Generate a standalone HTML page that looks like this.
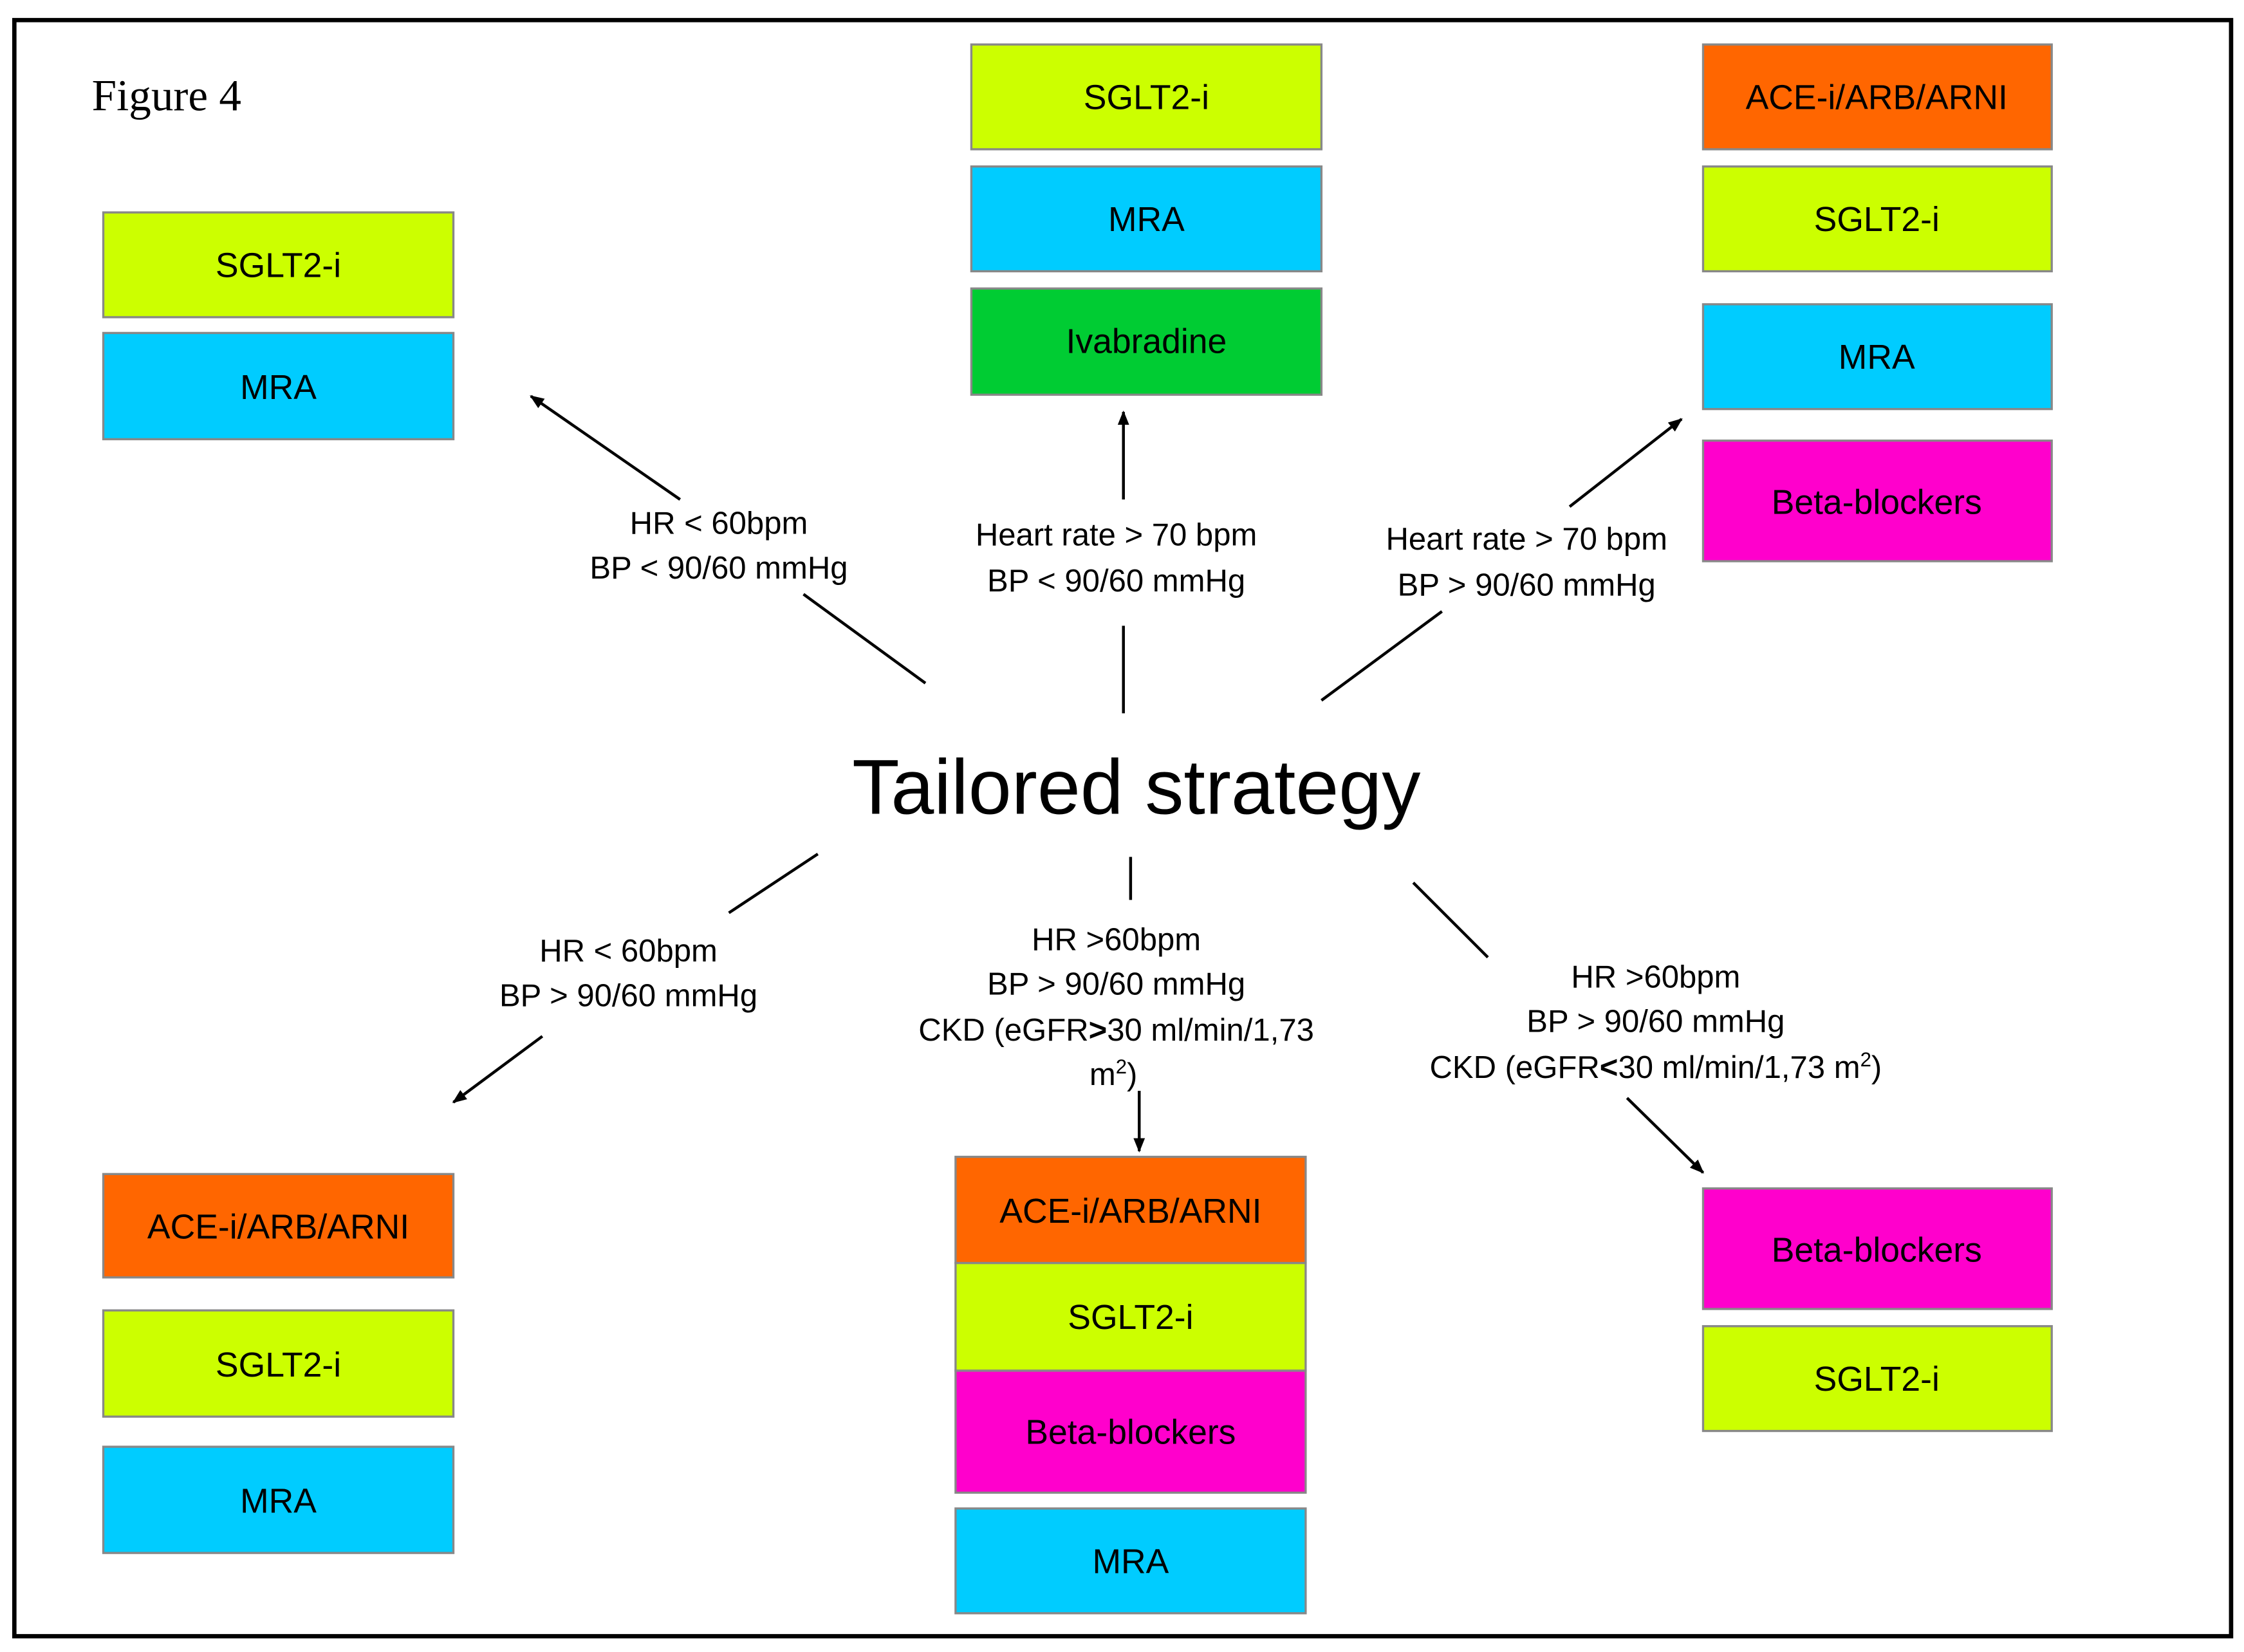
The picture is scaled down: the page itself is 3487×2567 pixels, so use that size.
<!DOCTYPE html>
<html><head><meta charset="utf-8"><style>
html,body{margin:0;padding:0;background:#fff;}
svg{display:block;}
text{font-family:"Liberation Sans",Arial,sans-serif;}
</style></head><body>
<svg width="3487" height="2567" viewBox="0 0 1564 1151" preserveAspectRatio="none" xmlns="http://www.w3.org/2000/svg">
<defs><marker id="a" markerWidth="10" markerHeight="10" refX="9" refY="5" orient="auto" markerUnits="userSpaceOnUse"><path d="M0,1 L10,5 L0,9 Z" fill="#000"/></marker></defs>
<rect x="0" y="0" width="1564" height="1151" fill="#fff"/>
<rect x="10" y="14" width="1545" height="1126" fill="none" stroke="#000" stroke-width="3"/>
<text x="64" y="77" font-family="Liberation Serif,serif" font-size="31" style="font-family:'Liberation Serif',serif">Figure 4</text>
<g stroke="#888" stroke-width="1.5" font-size="24" text-anchor="middle">
<rect x="72" y="148" width="244" height="73" fill="#CCFF00"/><text x="194" y="193" stroke="none">SGLT2-i</text>
<rect x="72" y="232" width="244" height="74" fill="#00CCFF"/><text x="194" y="278" stroke="none">MRA</text>
<rect x="677" y="31" width="244" height="73" fill="#CCFF00"/><text x="799" y="76" stroke="none">SGLT2-i</text>
<rect x="677" y="116" width="244" height="73" fill="#00CCFF"/><text x="799" y="161" stroke="none">MRA</text>
<rect x="677" y="201" width="244" height="74" fill="#00CC33"/><text x="799" y="246" stroke="none">Ivabradine</text>
<rect x="1187" y="31" width="243" height="73" fill="#FF6600"/><text x="1308" y="76" stroke="none">ACE-i/ARB/ARNI</text>
<rect x="1187" y="116" width="243" height="73" fill="#CCFF00"/><text x="1308" y="161" stroke="none">SGLT2-i</text>
<rect x="1187" y="212" width="243" height="73" fill="#00CCFF"/><text x="1308" y="257" stroke="none">MRA</text>
<rect x="1187" y="307" width="243" height="84" fill="#FF00CC"/><text x="1308" y="358" stroke="none">Beta-blockers</text>
<rect x="72" y="818" width="244" height="72" fill="#FF6600"/><text x="194" y="863" stroke="none">ACE-i/ARB/ARNI</text>
<rect x="72" y="913" width="244" height="74" fill="#CCFF00"/><text x="194" y="959" stroke="none">SGLT2-i</text>
<rect x="72" y="1008" width="244" height="74" fill="#00CCFF"/><text x="194" y="1054" stroke="none">MRA</text>
<rect x="666" y="806" width="244" height="74" fill="#FF6600"/><text x="788" y="852" stroke="none">ACE-i/ARB/ARNI</text>
<rect x="666" y="880" width="244" height="75" fill="#CCFF00"/><text x="788" y="926" stroke="none">SGLT2-i</text>
<rect x="666" y="955" width="244" height="85" fill="#FF00CC"/><text x="788" y="1006" stroke="none">Beta-blockers</text>
<rect x="666" y="1051" width="244" height="73" fill="#00CCFF"/><text x="788" y="1096" stroke="none">MRA</text>
<rect x="1187" y="828" width="243" height="84" fill="#FF00CC"/><text x="1308" y="879" stroke="none">Beta-blockers</text>
<rect x="1187" y="924" width="243" height="73" fill="#CCFF00"/><text x="1308" y="969" stroke="none">SGLT2-i</text>
</g>
<text x="792" y="567" font-size="54" text-anchor="middle">Tailored strategy</text>
<g stroke="#000" stroke-width="2" fill="none">
<line x1="474" y1="348" x2="370" y2="276" marker-end="url(#a)"/>
<line x1="560" y1="414" x2="645" y2="476"/>
<line x1="783" y1="348" x2="783" y2="287" marker-end="url(#a)"/>
<line x1="783" y1="436" x2="783" y2="497"/>
<line x1="1094" y1="353" x2="1172" y2="292" marker-end="url(#a)"/>
<line x1="1005" y1="426" x2="921" y2="488"/>
<line x1="570" y1="595" x2="508" y2="636"/>
<line x1="378" y1="722" x2="316" y2="768" marker-end="url(#a)"/>
<line x1="788" y1="597" x2="788" y2="627"/>
<line x1="794" y1="760" x2="794" y2="802" marker-end="url(#a)"/>
<line x1="985" y1="615" x2="1037" y2="667"/>
<line x1="1134" y1="765" x2="1187" y2="817" marker-end="url(#a)"/>
</g>
<g font-size="22" text-anchor="middle">
<text x="501" y="372">HR &lt; 60bpm</text><text x="501" y="403">BP &lt; 90/60 mmHg</text>
<text x="778" y="380">Heart rate &gt; 70 bpm</text><text x="778" y="412">BP &lt; 90/60 mmHg</text>
<text x="1064" y="383">Heart rate &gt; 70 bpm</text><text x="1064" y="415">BP &gt; 90/60 mmHg</text>
<text x="438" y="670">HR &lt; 60bpm</text><text x="438" y="701">BP &gt; 90/60 mmHg</text>
<text x="778" y="662">HR &gt;60bpm</text><text x="778" y="693">BP &gt; 90/60 mmHg</text>
<text x="778" y="725">CKD (eGFR<tspan font-weight="bold">&gt;</tspan>30 ml/min/1,73</text>
<text x="776" y="756">m<tspan font-size="14" dy="-8">2</tspan><tspan dy="8">)</tspan></text>
<text x="1154" y="688">HR &gt;60bpm</text><text x="1154" y="719">BP &gt; 90/60 mmHg</text>
<text x="1154" y="751">CKD (eGFR<tspan font-weight="bold">&lt;</tspan>30 ml/min/1,73 m<tspan font-size="14" dy="-8">2</tspan><tspan dy="8">)</tspan></text>
</g>
</svg>
</body></html>
